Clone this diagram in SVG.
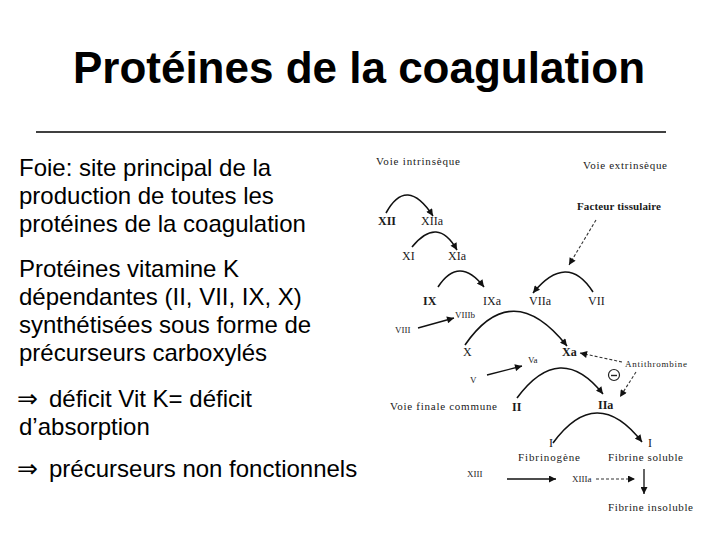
<svg xmlns="http://www.w3.org/2000/svg" width="720" height="540" viewBox="0 0 720 540">
<style>
.title{font-family:"Liberation Sans",Arial,sans-serif;font-weight:bold;font-size:44px;fill:#000}
.body{font-family:"Liberation Sans",Arial,sans-serif;font-size:24px;fill:#000}
.sym{font-family:"DejaVu Sans",sans-serif;font-size:25px;fill:#000}
.lab{font-family:"Liberation Serif","Times New Roman",serif;font-size:11px;fill:#1a1a1a}
.num{font-family:"Liberation Serif","Times New Roman",serif;font-size:12px;fill:#1a1a1a}
.sm{font-family:"Liberation Serif","Times New Roman",serif;font-size:9px;fill:#222}
.bold{font-weight:bold}
.arc{fill:none;stroke:#111;stroke-width:1.6;marker-end:url(#ah)}
.ln{fill:none;stroke:#111;stroke-width:1.3;marker-end:url(#ah)}
.dash{fill:none;stroke:#333;stroke-width:1.1;stroke-dasharray:3 2;marker-end:url(#ah)}
</style>
<defs>
<marker id="ah" viewBox="0 0 10 10" refX="10" refY="5" markerWidth="8" markerHeight="7" markerUnits="userSpaceOnUse" orient="auto">
<path d="M0,0 L10,5 L0,10 z" fill="#111"/>
</marker>
</defs>
<rect width="720" height="540" fill="#fff"/>
<g id="title">
<text class="title" x="359" y="83" text-anchor="middle">Protéines de la coagulation</text>
<line x1="36" y1="132" x2="666" y2="132" stroke="#000" stroke-width="1.3"/>
</g>
<g id="bullets">
<text class="body" x="19" y="176">Foie: site principal de la</text>
<text class="body" x="19" y="204">production de toutes les</text>
<text class="body" x="19" y="232">protéines de la coagulation</text>
<text class="body" x="19" y="277">Protéines vitamine K</text>
<text class="body" x="19" y="305">dépendantes (II, VII, IX, X)</text>
<text class="body" x="19" y="333">synthétisées sous forme de</text>
<text class="body" x="19" y="361">précurseurs carboxylés</text>
<text class="sym" x="17" y="407">⇒</text>
<text class="body" x="49" y="407">déficit Vit K= déficit</text>
<text class="body" x="19" y="435">d’absorption</text>
<text class="sym" x="17" y="477">⇒</text>
<text class="body" x="49" y="477">précurseurs non fonctionnels</text>
</g>
<g id="connectors">
<path class="arc" d="M386,213 Q406.5,175.5 433,216"/>
<path class="arc" d="M412,247 Q437.5,215.5 457,250"/>
<path class="arc" d="M438,287 Q459,255 484,287"/>
<path class="arc" d="M593,292 Q567,251.5 533,293"/>
<path class="arc" d="M465,345 Q512,277 567,346"/>
<path class="arc" d="M517,398 Q560,340 603,394"/>
<path class="arc" d="M553,443 Q596.5,383.5 642,442"/>
<path class="dash" d="M596,220 L569,265"/>
<path class="ln" d="M418,328 L454,318"/>
<path class="ln" d="M487,375 L522,366"/>
<path class="dash" d="M622,362 L580,353"/>
<path class="dash" d="M636,372 L620,397"/>
<path class="ln" d="M507,479 L556,479"/>
<path class="dash" d="M596,479 L635,479"/>
<path class="ln" d="M644,469 L644,494"/>
</g>
<g id="n-voie-intrinseque"><text class="lab" x="376" y="165" textLength="84">Voie intrinsèque</text></g>
<g id="n-voie-extrinseque"><text class="lab" x="583" y="169" textLength="84">Voie extrinsèque</text></g>
<g id="n-facteur"><text class="lab bold" x="577" y="210" textLength="84">Facteur tissulaire</text></g>
<g id="n-XII"><text class="num bold" x="378" y="225">XII</text></g>
<g id="n-XIIa"><text class="num" x="421" y="225">XIIa</text></g>
<g id="n-XI"><text class="num" x="402" y="260">XI</text></g>
<g id="n-XIa"><text class="num" x="448" y="260">XIa</text></g>
<g id="n-IX"><text class="num bold" x="423" y="305">IX</text></g>
<g id="n-IXa"><text class="num" x="483" y="305">IXa</text></g>
<g id="n-VIIa"><text class="num" x="529" y="305">VIIa</text></g>
<g id="n-VII"><text class="num" x="588" y="305">VII</text></g>
<g id="n-VIII"><text class="sm" x="395" y="333">VIII</text></g>
<g id="n-VIIIb"><text class="sm" x="455" y="318">VIIIb</text></g>
<g id="n-X"><text class="num" x="463" y="356">X</text></g>
<g id="n-Xa"><text class="num bold" x="562" y="356">Xa</text></g>
<g id="n-Va"><text class="sm" x="528" y="363">Va</text></g>
<g id="n-V"><text class="sm" x="470" y="383">V</text></g>
<g id="n-antithrombine">
<text class="sm" x="625" y="367" textLength="62">Antithrombine</text>
<circle cx="614" cy="375" r="5.5" fill="none" stroke="#222" stroke-width="1.2"/>
<line x1="611" y1="375.5" x2="617" y2="375.5" stroke="#222" stroke-width="1.4"/>
</g>
<g id="n-voie-finale"><text class="lab" x="390" y="410" textLength="107">Voie finale commune</text></g>
<g id="n-II"><text class="num bold" x="512" y="411">II</text></g>
<g id="n-IIa"><text class="num bold" x="598" y="409">IIa</text></g>
<g id="n-I1"><text class="num" x="549" y="447">I</text></g>
<g id="n-I2"><text class="num" x="648" y="447">I</text></g>
<g id="n-fibrinogene"><text class="lab" x="518" y="461" textLength="62">Fibrinogène</text></g>
<g id="n-fibrine-soluble"><text class="lab" x="608" y="461" textLength="75">Fibrine soluble</text></g>
<g id="n-XIII"><text class="sm" x="467" y="477">XIII</text></g>
<g id="n-XIIIa"><text class="sm" x="572" y="482">XIIIa</text></g>
<g id="n-fibrine-insoluble"><text class="lab" x="608" y="511" textLength="85">Fibrine insoluble</text></g>
</svg>
